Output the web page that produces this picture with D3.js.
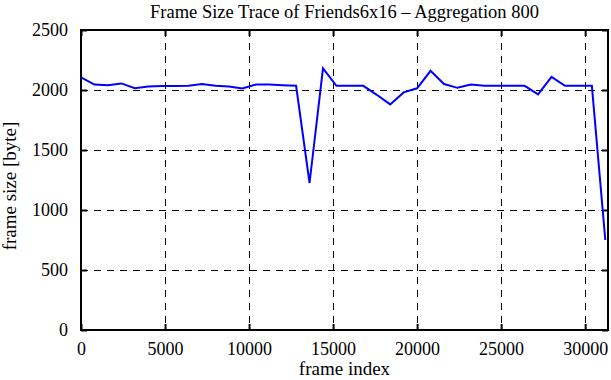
<!DOCTYPE html>
<html lang="en">
  <head>
    <meta charset="utf-8" />
    <title>Frame Size Trace of Friends6x16 - Aggregation 800</title>
    <script src="https://d3js.org/d3.v7.min.js"></script>
    <style type="text/css">
      body { margin: 0; background: #fff; }
      text { font-family: "Liberation Serif", "DejaVu Serif", serif; fill: #000; }
    </style>
  </head>
  <body>
    <script type="text/javascript">
      // frame index of each aggregated point (one every 800 frames)
      const frameIndex = d3.range(40).map(function (i) { return i * 800; });

      // frame size in bytes
      const frameSize = [
        2105, 2045, 2040, 2055, 2015, 2030, 2033, 2033, 2035, 2050,
        2035, 2030, 2013, 2045, 2045, 2040, 2035, 1225, 2180, 2035,
        2035, 2035, 1960, 1880, 1980, 2014, 2160, 2050, 2018, 2045,
        2035, 2035, 2035, 2035, 1963, 2110, 2035, 2035, 2035, 750
      ];

      const xTicks = [0, 5000, 10000, 15000, 20000, 25000, 30000];
      const yTicks = [0, 500, 1000, 1500, 2000, 2500];

      const dataset = frameIndex.map(function (f, i) {
        return { x: f, y: frameSize[i] };
      });

      //Width and height
      const w = 611;
      const h = 380;
      const pLeft = 81, pRight = 608, pTop = 30, pBottom = 330;

      const xScale = d3.scaleLinear().domain([0, 31360]).range([pLeft, pRight]);
      const yScale = d3.scaleLinear().domain([0, 2500]).range([pBottom, pTop]);

      const svg = d3.select("body").append("svg")
        .attr("width", w)
        .attr("height", h);

      // grid (half pixel offset keeps the 1px dashes crisp)
      svg.append("g").selectAll("line")
        .data(xTicks.filter(function (d) { return d > 0; }))
        .enter().append("line")
        .attr("x1", function (d) { return Math.round(xScale(d)) + 0.5; })
        .attr("x2", function (d) { return Math.round(xScale(d)) + 0.5; })
        .attr("y1", pTop)
        .attr("y2", pBottom)
        .attr("stroke", "#000")
        .attr("stroke-width", 1)
        .attr("stroke-dasharray", "7,6");

      svg.append("g").selectAll("line")
        .data(yTicks.filter(function (d) { return d > 0 && d < 2500; }))
        .enter().append("line")
        .attr("x1", pLeft)
        .attr("x2", pRight)
        .attr("y1", function (d) { return Math.round(yScale(d)) + 0.5; })
        .attr("y2", function (d) { return Math.round(yScale(d)) + 0.5; })
        .attr("stroke", "#000")
        .attr("stroke-width", 1)
        .attr("stroke-dasharray", "7,6");

      // axes, ticks inward and mirrored
      const tick = -6;
      svg.append("g").attr("transform", "translate(0," + pBottom + ")")
        .call(d3.axisBottom(xScale).tickValues(xTicks).tickSize(tick).tickPadding(12).tickFormat(d3.format("d")));
      svg.append("g").attr("transform", "translate(0," + pTop + ")")
        .call(d3.axisTop(xScale).tickValues(xTicks).tickSize(tick).tickFormat(""));
      svg.append("g").attr("transform", "translate(" + pLeft + ",0)")
        .call(d3.axisLeft(yScale).tickValues(yTicks).tickSize(tick).tickPadding(13).tickFormat(d3.format("d")));
      svg.append("g").attr("transform", "translate(" + pRight + ",0)")
        .call(d3.axisRight(yScale).tickValues(yTicks).tickSize(tick).tickFormat(""));

      svg.selectAll(".domain").remove();
      svg.selectAll(".tick line").attr("stroke", "#000").attr("stroke-width", 2);
      svg.selectAll(".tick text")
        .style("font-family", "'Liberation Serif', 'DejaVu Serif', serif")
        .style("font-size", "18px");

      // frame
      svg.append("rect")
        .attr("x", pLeft)
        .attr("y", pTop)
        .attr("width", pRight - pLeft)
        .attr("height", pBottom - pTop)
        .attr("fill", "none")
        .attr("stroke", "#000")
        .attr("stroke-width", 2);

      // the trace
      const line = d3.line()
        .x(function (d) { return xScale(d.x); })
        .y(function (d) { return yScale(d.y); });

      svg.append("path")
        .datum(dataset)
        .attr("d", line)
        .attr("fill", "none")
        .attr("stroke", "#0000ff")
        .attr("stroke-width", 2);

      // labels
      svg.append("text")
        .attr("x", (pLeft + pRight) / 2)
        .attr("y", 18)
        .attr("text-anchor", "middle")
        .style("font-size", "18.5px")
        .text("Frame Size Trace of Friends6x16 \u2013 Aggregation 800");

      svg.append("text")
        .attr("x", (pLeft + pRight) / 2)
        .attr("y", 375)
        .attr("text-anchor", "middle")
        .style("font-size", "19px")
        .text("frame index");

      svg.append("text")
        .attr("transform", "translate(16,186) rotate(-90)")
        .attr("text-anchor", "middle")
        .style("font-size", "19px")
        .text("frame size [byte]");
    </script>
  </body>
</html>
